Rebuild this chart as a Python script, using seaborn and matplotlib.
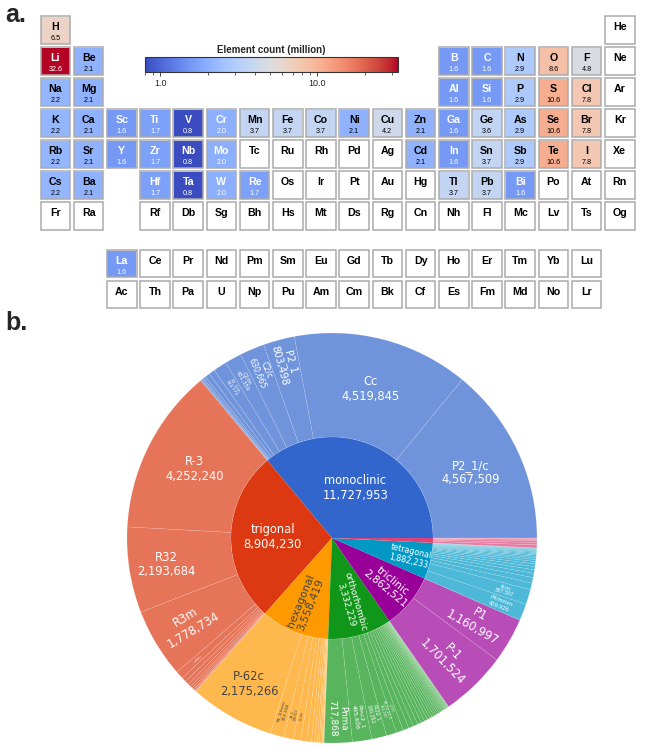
import numpy as np
import pandas as pd
import seaborn as sns
import matplotlib.pyplot as plt
from matplotlib.colors import LogNorm, to_rgb
from matplotlib.patches import Rectangle

# ---- panel a: periodic table ----
table_rows = [
    ["H"] + [""] * 16 + ["He"],
    ["Li", "Be"] + [""] * 10 + ["B", "C", "N", "O", "F", "Ne"],
    ["Na", "Mg"] + [""] * 10 + ["Al", "Si", "P", "S", "Cl", "Ar"],
    "K Ca Sc Ti V Cr Mn Fe Co Ni Cu Zn Ga Ge As Se Br Kr".split(),
    "Rb Sr Y Zr Nb Mo Tc Ru Rh Pd Ag Cd In Sn Sb Te I Xe".split(),
    ["Cs", "Ba", ""] + "Hf Ta W Re Os Ir Pt Au Hg Tl Pb Bi Po At Rn".split(),
    ["Fr", "Ra", ""] + "Rf Db Sg Bh Hs Mt Ds Rg Cn Nh Fl Mc Lv Ts Og".split(),
]
lanthanides = "La Ce Pr Nd Pm Sm Eu Gd Tb Dy Ho Er Tm Yb Lu".split()
actinides = "Ac Th Pa U Np Pu Am Cm Bk Cf Es Fm Md No Lr".split()

counted_elements = ["H", "Li", "Be", "B", "C", "N", "O", "F",
                    "Na", "Mg", "Al", "Si", "P", "S", "Cl",
                    "K", "Ca", "Sc", "Ti", "V", "Cr", "Mn", "Fe", "Co", "Ni", "Cu", "Zn",
                    "Ga", "Ge", "As", "Se", "Br",
                    "Rb", "Sr", "Y", "Zr", "Nb", "Mo", "Cd", "In", "Sn", "Sb", "Te", "I",
                    "Cs", "Ba", "Hf", "Ta", "W", "Re", "Tl", "Pb", "Bi", "La"]
element_counts = [6.5, 32.6, 2.1, 1.6, 1.6, 2.9, 8.6, 4.8,
                  2.2, 2.1, 1.6, 1.6, 2.9, 10.6, 7.8,
                  2.2, 2.1, 1.6, 1.7, 0.8, 2.0, 3.7, 3.7, 3.7, 2.1, 4.2, 2.1,
                  1.6, 3.6, 2.9, 10.6, 7.8,
                  2.2, 2.1, 1.6, 1.7, 0.8, 2.0, 2.1, 1.6, 3.7, 2.9, 10.6, 7.8,
                  2.2, 2.1, 1.7, 0.8, 2.0, 1.7, 3.7, 3.7, 1.6, 1.6]

# ---- panel b: crystal systems and space groups ----
crystal_systems = ["monoclinic", "trigonal", "hexagonal", "orthorhombic",
                   "triclinic", "tetragonal", "cubic"]
system_counts = [11727953, 8904230, 3558419, 3332229, 2862521, 1882233, 253000]
system_colors = ["#3366CC", "#DC3912", "#FF9900", "#109618", "#990099", "#0099C6", "#DD4477"]

mono_groups = ["P2_1/c", "Cc", "P2_1", "C2/c", "C2/m", "P2_1/m", "Pc", "Cm", "P2/m", "P2", "C2", "P2/c"]
mono_counts = [4567509, 4519845, 803498, 630665, 431359, 344773, 160000, 120000, 60000, 40000, 30000, 20304]

trig_groups = ["R-3", "R32", "R3m", "R-3m", "P3_121", "P-3m1", "P3", "R3", "P-3", "P3m1", "P3_1", "P3_2"]
trig_counts = [4252240, 2193684, 1778734, 200000, 120000, 100000, 80000, 60000, 50000, 30000, 20000, 19572]

hex_groups = ["P-62c", "P6_3/mmc", "P6_3", "P6_3mc", "P-6m2", "P6/mmm", "P6_122", "P-6",
              "P6_322", "P6/m", "P6_3/m", "P6", "P6_522", "P6_422"]
hex_counts = [2175266, 352358, 246517, 193308, 150000, 120000, 80000, 70000,
              50000, 40000, 30000, 25000, 15000, 10970]

ortho_groups = ["Pnma", "Pmc2_1", "P222_1", "P2_12_12_1", "Cmcm", "Pna2_1", "Cmc2_1", "Pbca",
                "Imma", "Fmm2", "Pmmn", "Ama2", "Pca2_1", "Cmce", "Pmn2_1", "Immm", "Cmmm",
                "Fddd", "Pbcn", "Pnnm", "Pccn", "Ibam", "Pmma", "P2_12_12", "Pnn2", "Iba2",
                "Pban", "Ccce", "Pbam", "Pmmm"]
ortho_counts = [717868, 495606, 380261, 261130, 180000, 150000, 130000, 120000,
                100000, 90000, 80000, 70000, 65000, 60000, 55000, 50000, 45000,
                40000, 35000, 30000, 28000, 25000, 22000, 20000, 19364, 18000,
                15000, 12000, 10000, 8000]

tric_groups = ["P-1", "P1"]
tric_counts = [1701524, 1160997]

tetra_groups = ["P4/mmm", "I4/m", "I-4", "I-42m", "P4/nmm", "P4_2/mnm", "I4/mcm", "P-4",
                "I4/mmm", "P4/n", "P-42m", "P4_2/m", "I4_1/a", "P4/m", "P-4m2", "P4mm",
                "I4_1/amd", "P4_2/n", "I4mm", "P4_32_12", "P4_12_12", "P-42_1m"]
tetra_counts = [429926, 387307, 171045, 140000, 110000, 90000, 80000, 70000,
                60000, 50000, 45000, 40000, 35000, 30000, 28000, 25000,
                22000, 20000, 18000, 15000, 10000, 5955]

cubic_groups = ["Fm-3m", "F-43m", "Pm-3m", "Ia-3", "P2_13", "Fd-3m"]
cubic_counts = [80000, 60000, 50000, 30000, 20000, 13000]

group_lists = [mono_groups, trig_groups, hex_groups, ortho_groups, tric_groups, tetra_groups, cubic_groups]
count_lists = [mono_counts, trig_counts, hex_counts, ortho_counts, tric_counts, tetra_counts, cubic_counts]

sns.set_style("white")
plt.rcParams["font.family"] = ["Liberation Sans", "DejaVu Sans"]

W, H = 664, 752
fig = plt.figure(figsize=(W / 100, H / 100), dpi=100)


def px_axes(x0, y0, x1, y1):
    return fig.add_axes([x0 / W, 1 - y1 / H, (x1 - x0) / W, (y1 - y0) / H])


count_of = dict(zip(counted_elements, element_counts))
norm = LogNorm(vmin=min(element_counts), vmax=max(element_counts))


def draw_block(ax, rows, cax=None):
    grid = pd.DataFrame([[count_of.get(s, np.nan) for s in r] for r in rows])
    sns.heatmap(grid, ax=ax, cmap="coolwarm", norm=norm, mask=grid.isna(),
                cbar=cax is not None, cbar_ax=cax,
                cbar_kws={"orientation": "horizontal"},
                linewidths=1.5, linecolor="white",
                xticklabels=False, yticklabels=False)
    for i, r in enumerate(rows):
        for j, s in enumerate(r):
            if not s:
                continue
            ax.add_patch(Rectangle((j + 0.055, i + 0.058), 0.89, 0.884, fill=False,
                                   edgecolor="#ababab", lw=1.1))
            v = count_of.get(s)
            tc = "white" if v is not None and (v <= 2.0 or v >= 20) else "black"
            ax.text(j + 0.5, i + 0.41, s, ha="center", va="center",
                    fontsize=7.7, fontweight="bold", color=tc)
            if v is not None:
                ax.text(j + 0.5, i + 0.78, f"{v:.1f}", ha="center", va="center",
                        fontsize=5.2, color=tc)


ax_main = px_axes(38.8, 14.5, 636.4, 231.5)
cax = px_axes(145, 57, 398, 72)
draw_block(ax_main, table_rows, cax)
ax_f = px_axes(105.2, 248.5, 603.2, 310)
draw_block(ax_f, [lanthanides, actinides])

cb = ax_main.collections[0].colorbar
cb.outline.set_linewidth(0.8)
cb.outline.set_edgecolor("#333333")
cb.set_ticks([1, 10])
cb.set_ticklabels(["1.0", "10.0"])
cb.minorticks_on()
cax.tick_params(which="major", labelsize=6.5, length=3, width=0.6, colors="#222222", pad=2)
cax.tick_params(which="minor", length=1.8, width=0.5, colors="#222222")
cax.set_title("Element count (million)", fontsize=7, fontweight="bold", pad=3)

# ---- sunburst ----
R0 = 0.493
ax_b = px_axes(117, 323, 547, 753)
inner, _ = ax_b.pie(system_counts, radius=R0, colors=system_colors, startangle=0,
                    counterclock=True, wedgeprops=dict(linewidth=0))

child_counts, child_names, child_colors, child_dark = [], [], [], []
for g, c, col, sysname in zip(group_lists, count_lists, system_colors, crystal_systems):
    light = tuple(0.7 * np.array(to_rgb(col)) + 0.3)
    child_counts += c
    child_names += g
    child_colors += [light] * len(c)
    child_dark += [sysname == "hexagonal"] * len(c)

outer, _ = ax_b.pie(child_counts, radius=1.0, colors=child_colors, startangle=0,
                    counterclock=True,
                    wedgeprops=dict(width=1 - R0, edgecolor=(1, 1, 1, 0.18), linewidth=0.4))
ax_b.set_xlim(-215 / 205, 215 / 205)
ax_b.set_ylim(-215 / 205, 215 / 205)
ax_b.axis("off")


def put_label(wedge, text, r, radial, fs, color):
    a = np.deg2rad((wedge.theta1 + wedge.theta2) / 2)
    rot = 0
    if radial:
        deg = np.rad2deg(a)
        rot = deg if np.cos(a) >= 0 else deg + 180
    ax_b.text(r * np.cos(a), r * np.sin(a), text, rotation=rot, rotation_mode="anchor",
              ha="center", va="center", multialignment="center", fontsize=fs,
              color=color, linespacing=1.15, family="DejaVu Sans")


inner_sizes = [8.3, 8.3, 7.8, 6.5, 7.5, 5.8, 0]
inner_radii = [0.27, 0.29, 0.34, 0.33, 0.36, 0.39, 0]
for w, name, n, fs, r in zip(inner, crystal_systems, system_counts, inner_sizes, inner_radii):
    if fs == 0:
        continue
    span = w.theta2 - w.theta1
    put_label(w, f"{name}\n{n:,}", r, span < 60, fs,
              "#444444" if name == "hexagonal" else "white")

for w, name, n, dark in zip(outer, child_names, child_counts, child_dark):
    span = w.theta2 - w.theta1
    color = "#444444" if dark else "white"
    if span > 22:
        put_label(w, f"{name}\n{n:,}", 0.75 if span > 40 else 0.82, False, 8.3, color)
    else:
        fs = min(8.3, 0.81 * span)
        if fs < 1.6:
            continue
        put_label(w, f"{name}\n{n:,}", 0.81 if span >= 10 else 0.88, True, fs, color)

fig.text(5 / W, 1 - 3 / H, "a.", fontsize=18, fontweight="bold", va="top")
fig.text(5 / W, 1 - 311 / H, "b.", fontsize=18, fontweight="bold", va="top")

fig.savefig("out.png", dpi=100)
